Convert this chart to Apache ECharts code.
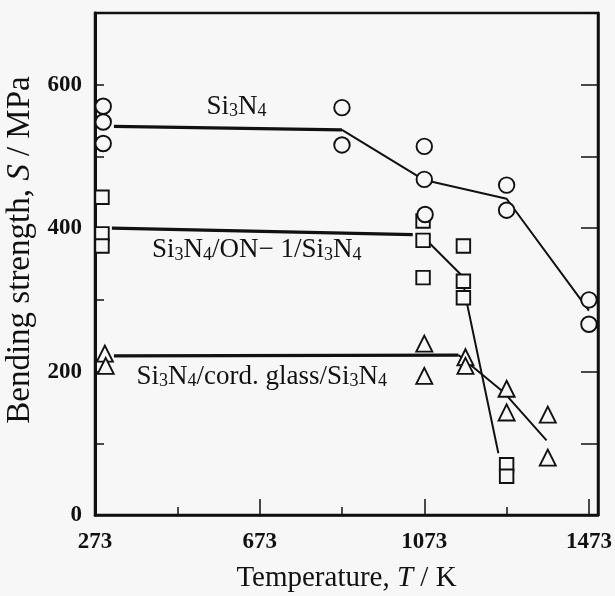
<!DOCTYPE html>
<html>
<head>
<meta charset="utf-8">
<script src="https://cdn.jsdelivr.net/npm/echarts@6/dist/echarts.min.js"></script>
<style>
html,body{margin:0;padding:0;background:#f7f7f7;}
#chart{width:615px;height:596px;}
</style>
</head>
<body>
<div id="chart"></div>
<script>
// ---- data ----
const xMajorTicks = [273, 673, 1073, 1473];
const xMinorTicks = [473, 873, 1273];
const yLabelValues = [0, 200, 400, 600];

// Si3N4 (circles)
const si3n4Points = [[293,570],[293,548],[293,518],[873,568],[873,516],[1073,514],[1073,468],[1075,419],[1273,460],[1273,425],[1473,300],[1473,266]];
const si3n4Plateau = [[319,542],[873,537]];
const si3n4Decline = [[873,537],[1073,467],[1273,441],[1473,285]];

// Si3N4/ON-1/Si3N4 (squares)
const on1Points = [[290,443],[290,392],[290,375],[1070,410],[1070,383],[1070,331],[1168,375],[1168,326],[1168,303],[1273,70],[1273,54]];
const on1Plateau = [[314,400],[1045,391]];
const on1Decline = [[1070,388],[1166,333],[1172,308],[1253,86]];

// Si3N4/cord. glass/Si3N4 (triangles)
const glassPoints = [[297,225],[299,208],[1073,239],[1073,194],[1173,220],[1173,208],[1273,176],[1273,143],[1373,140],[1373,80]];
const glassPlateau = [[319,222],[1156,223]];
const glassDecline = [[1156,223],[1268,170],[1370,104]];

// annotation anchors (data coords)
const labelSi3N4 = [[617,569]];
const labelOn1 = [[666,369]];
const labelGlass = [[678,193]];

const BG = '#f7f7f7';
const INK = '#111';
const SERIF = '"Liberation Serif", "DejaVu Serif", serif';

const subRich = {
  n: {fontFamily: SERIF, fontSize: 27, color: INK},
  s: {fontFamily: SERIF, fontSize: 18, color: INK, padding: [9, 0, 0, 0]}
};

function lineSeries(data, width) {
  return {type:'line', data, symbol:'none', silent:true, z:2,
    lineStyle:{color:INK, width}, animation:false};
}
function pointSeries(data, symbol, size, z) {
  return {type:'scatter', data, symbol, symbolSize:size, z, silent:true, animation:false,
    itemStyle:{color:BG, borderColor:INK, borderWidth:1.9, opacity:1}};
}
function textSeries(data, fmt) {
  return {type:'scatter', data, symbolSize:0, silent:true, animation:false, z:8,
    itemStyle:{color:INK, opacity:1},
    label:{show:true, position:'inside', color:INK, textBorderWidth:0, formatter: fmt, rich: subRich}};
}

const chart = echarts.init(document.getElementById('chart'), null, {renderer:'canvas'});
chart.setOption({
  backgroundColor: BG,
  animation: false,
  grid: {left:95, right:17, top:13, bottom:81, show:true, borderColor:INK, borderWidth:2.5, backgroundColor:'transparent',
    containLabel:false, outerBoundsMode:'none'},
  xAxis: [{
    type:'value', min:273, max:1495, position:'bottom',
    axisLine:{show:true, lineStyle:{color:INK, width:2.5}},
    axisTick:{show:true, inside:true, length:16, customValues:xMajorTicks, lineStyle:{color:INK, width:1.5}},
    axisLabel:{show:true, customValues:xMajorTicks, margin:16, fontFamily:SERIF, fontWeight:'bold', fontSize:23, color:INK,
      formatter: v => String(v)},
    splitLine:{show:false},
    name:'{a|Temperature, }{i|T}{a| / K}', nameLocation:'middle', nameGap:49,
    nameTextStyle:{rich:{a:{fontFamily:SERIF, fontSize:29, color:INK}, i:{fontFamily:SERIF, fontStyle:'italic', fontSize:29, color:INK}}}
  },{
    type:'value', min:273, max:1495, position:'bottom',
    axisLine:{show:false},
    axisTick:{show:true, inside:true, length:8, customValues:xMinorTicks, lineStyle:{color:INK, width:1.5}},
    axisLabel:{show:false}, splitLine:{show:false}
  }],
  yAxis: [{
    type:'value', min:0, max:700, interval:100, position:'left',
    axisLine:{show:true, lineStyle:{color:INK, width:3}},
    axisTick:{show:true, inside:true, length:9, lineStyle:{color:INK, width:1.5}},
    axisLabel:{show:true, margin:13, fontFamily:SERIF, fontWeight:'bold', fontSize:23, color:INK,
      formatter: v => yLabelValues.includes(v) ? String(v) : ''},
    splitLine:{show:false},
    name:'{a|Bending strength, }{i|S}{a| / MPa}', nameLocation:'middle', nameGap:58,
    nameTextStyle:{padding:[0,0,0,28], rich:{a:{fontFamily:SERIF, fontSize:33, color:INK}, i:{fontFamily:SERIF, fontStyle:'italic', fontSize:33, color:INK}}}
  },{
    type:'value', min:0, max:700, interval:100, position:'right',
    axisLine:{show:true, lineStyle:{color:INK, width:2.5}},
    axisTick:{show:true, inside:true, length:17, lineStyle:{color:INK, width:1.5}},
    axisLabel:{show:false}, splitLine:{show:false}
  }],
  series: [
    lineSeries(si3n4Plateau, 3.2),
    lineSeries(si3n4Decline, 2),
    lineSeries(on1Plateau, 3.2),
    lineSeries(on1Decline, 2),
    lineSeries(glassPlateau, 3.2),
    lineSeries(glassDecline, 2),
    pointSeries(on1Points, 'rect', 13.5, 5),
    pointSeries(glassPoints, 'triangle', 16, 5),
    pointSeries(si3n4Points, 'circle', 15.5, 6),
    textSeries(labelSi3N4, '{n|Si}{s|3}{n|N}{s|4}'),
    textSeries(labelOn1, '{n|Si}{s|3}{n|N}{s|4}{n|/ON− 1/Si}{s|3}{n|N}{s|4}'),
    textSeries(labelGlass, '{n|Si}{s|3}{n|N}{s|4}{n|/cord. glass/Si}{s|3}{n|N}{s|4}')
  ]
});
</script>
</body>
</html>
